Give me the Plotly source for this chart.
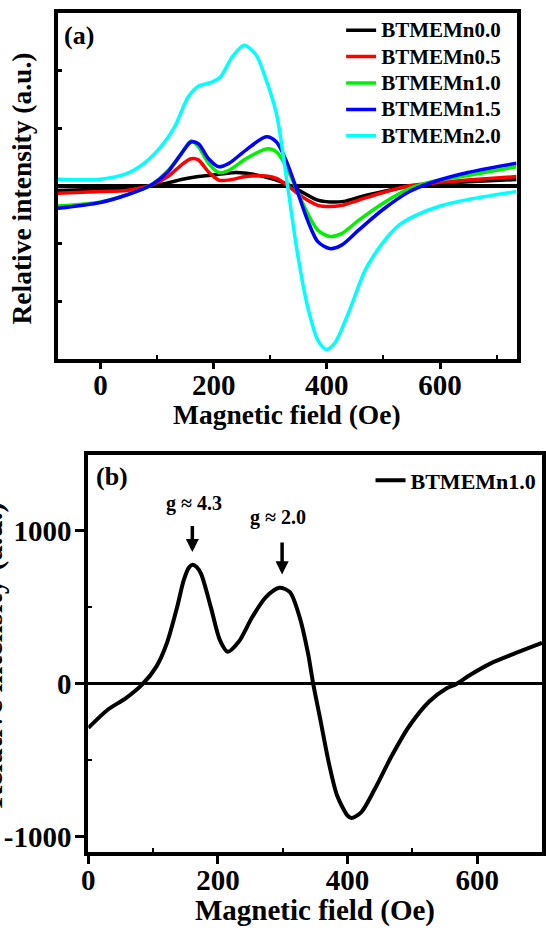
import plotly.graph_objects as go

# ---------------- data: panel (a) ----------------
names_a = ["BTMEMn0.0", "BTMEMn0.5", "BTMEMn1.0", "BTMEMn1.5", "BTMEMn2.0"]
colors_a = ["#000000", "#FF0000", "#00F000", "#0000FF", "#00FFFF"]

x_n00 = [-75, 0, 46, 89, 119, 143, 173, 209, 240, 270, 300, 330, 360, 384, 405, 430, 460, 500, 550, 600, 650, 735]
y_n00 = [-0.08, -0.06, -0.05, 0.0, 0.05, 0.11, 0.16, 0.20, 0.23, 0.20, 0.13, 0.03, -0.13, -0.25, -0.28, -0.27, -0.19, -0.10, 0.0, 0.04, 0.07, 0.11]

x_mid = [-75, 0, 46, 89, 119, 143, 160, 173, 191, 209, 227, 257, 293, 311, 330, 348, 366, 384, 405, 426, 456, 498, 546, 589, 649, 735]
y_n05 = [-0.13, -0.10, -0.08, 0.01, 0.16, 0.36, 0.47, 0.45, 0.24, 0.10, 0.10, 0.16, 0.17, 0.13, 0.01, -0.13, -0.25, -0.34, -0.36, -0.34, -0.25, -0.12, 0.0, 0.05, 0.10, 0.16]
y_n10 = [-0.35, -0.28, -0.16, 0.01, 0.26, 0.56, 0.78, 0.68, 0.39, 0.23, 0.27, 0.47, 0.64, 0.59, 0.30, -0.10, -0.48, -0.77, -0.88, -0.83, -0.60, -0.31, -0.05, 0.08, 0.18, 0.33]
y_n15 = [-0.39, -0.29, -0.16, 0.01, 0.24, 0.56, 0.76, 0.73, 0.47, 0.33, 0.39, 0.62, 0.85, 0.76, 0.39, -0.10, -0.60, -0.97, -1.09, -1.03, -0.77, -0.42, -0.10, 0.07, 0.23, 0.39]

x_n20 = [-75, 0, 46, 77, 107, 131, 155, 173, 197, 212, 233, 254, 275, 293, 311, 330, 348, 366, 384, 399, 414, 438, 468, 498, 528, 558, 600, 649, 735]
y_n20 = [0.115, 0.115, 0.21, 0.39, 0.68, 1.02, 1.54, 1.73, 1.80, 1.89, 2.24, 2.44, 2.27, 1.83, 1.25, 0.04, -1.17, -2.10, -2.68, -2.84, -2.73, -2.21, -1.46, -1.0, -0.68, -0.51, -0.35, -0.24, -0.10]

# ---------------- data: panel (b) ----------------
name_b = "BTMEMn1.0"
x_b = [0, 30, 58, 84, 105, 121, 137, 147, 155, 161, 167, 174, 189, 203, 215, 232, 253, 274, 295, 311, 326, 339, 347, 358, 371, 384, 400, 406, 421, 442, 468, 495, 526, 553, 568, 589, 621, 658, 700]
y_b = [-288, -169, -93, 0, 113, 264, 502, 675, 760, 779, 765, 719, 502, 286, 210, 275, 437, 567, 628, 600, 437, 199, 0, -234, -515, -732, -861, -877, -840, -688, -472, -277, -115, -28, 0, 58, 134, 199, 268]

# tick labels
xa_ticks = [0, 200, 400, 600]
xa_minor = [100, 300, 500, 700]
ya_ticks = [-2, -1, 0, 1, 2]
xb_ticks = [0, 200, 400, 600]
xb_minor = [100, 300, 500]
yb_ticks = [-1000, 0, 1000]
yb_ticktext = ["-1000", "0", "1000"]
yb_minor = [-500, 500]

# annotations (g-values)
g_labels = ["g \u2248 4.3", "g \u2248 2.0"]
g_label_x = [163, 292]
g_label_y = [1179, 1088]
arrow_x = [160.5, 299]
arrow_tail_y = [1042, 934]
arrow_tip_y = [862, 716]

W, H = 546, 930
FONT = "Liberation Serif"

fig = go.Figure()

def legend_name(n, size):
    return '<span style="font-size:%dpx">%s</span>' % (size, n)

series_a = [(x_n00, y_n00), (x_mid, y_n05), (x_mid, y_n10), (x_mid, y_n15), (x_n20, y_n20)]
for (xs, ys), nm, col in zip(series_a, names_a, colors_a):
    fig.add_trace(go.Scatter(x=xs, y=ys, name=legend_name(nm, 21), mode="lines",
                             line=dict(color=col, width=3.5, shape="spline", smoothing=0.8),
                             xaxis="x", yaxis="y", legend="legend"))

fig.add_trace(go.Scatter(x=x_b, y=y_b, name=name_b, mode="lines",
                         line=dict(color="black", width=4, shape="spline", smoothing=0.8),
                         xaxis="x2", yaxis="y2", legend="legend2"))

def px_x(p):
    return p / W

def px_y(p):
    return 1 - p / H

tickfont_a = dict(family=FONT, size=29, color="black", weight="bold")
tickfont_b = dict(family=FONT, size=29, color="black", weight="bold")

common_axis = dict(showline=True, linecolor="black", mirror=True, showgrid=False,
                   tickcolor="black", tickwidth=3)

fig.update_layout(
    width=W, height=H,
    margin=dict(l=0, r=0, t=0, b=0),
    paper_bgcolor="white", plot_bgcolor="white",
    showlegend=True,
    xaxis=dict(domain=[px_x(52), px_x(520)], range=[-75, 735], anchor="y",
               linewidth=3.5, ticks="outside", ticklen=7, tickvals=xa_ticks,
               tickfont=tickfont_a, zeroline=False, ticklabelstandoff=-9,
               minor=dict(tickvals=xa_minor, ticks="inside", ticklen=4, tickwidth=2, tickcolor="black"),
               **common_axis),
    yaxis=dict(domain=[px_y(359), px_y(13)], range=[-3, 3], anchor="x",
               linewidth=3.5, ticks="inside", ticklen=4, tickvals=ya_ticks,
               showticklabels=False,
               zeroline=True, zerolinecolor="black", zerolinewidth=3.5,
               **common_axis),
    xaxis2=dict(domain=[px_x(83), 1.0], range=[0, 700], anchor="y2",
                linewidth=4, ticks="outside", ticklen=8, tickvals=xb_ticks,
                tickfont=tickfont_b, zeroline=False, ticklabelstandoff=-9,
                minor=dict(tickvals=xb_minor, ticks="inside", ticklen=4, tickwidth=2, tickcolor="black"),
                **common_axis),
    yaxis2=dict(domain=[px_y(853), px_y(455)], range=[-1100, 1500], anchor="x2",
                linewidth=4, ticks="outside", ticklen=9, tickvals=yb_ticks, ticktext=yb_ticktext,
                tickfont=tickfont_b, ticklabelstandoff=-2,
                zeroline=True, zerolinecolor="black", zerolinewidth=3,
                minor=dict(tickvals=yb_minor, ticks="inside", ticklen=4, tickwidth=2, tickcolor="black"),
                **common_axis),
    legend=dict(x=px_x(341), y=px_y(12), xanchor="left", yanchor="top",
                bgcolor="rgba(0,0,0,0)", borderwidth=0,
                font=dict(family=FONT, size=18, color="black", weight="bold"),
                tracegroupgap=0),
    legend2=dict(x=px_x(371), y=px_y(460), xanchor="left", yanchor="top",
                 bgcolor="rgba(0,0,0,0)", borderwidth=0,
                 font=dict(family=FONT, size=22, color="black", weight="bold")),
)

ann = []
title_font_a = dict(family=FONT, size=27.5, color="black", weight="bold")
title_font_b = dict(family=FONT, size=29, color="black", weight="bold")
# axis titles
ann.append(dict(text="Magnetic field (Oe)", xref="paper", yref="paper",
                x=px_x(286), y=px_y(415), xanchor="center", yanchor="middle",
                showarrow=False, font=title_font_a))
ann.append(dict(text="Relative intensity (a.u.)", xref="paper", yref="paper",
                x=px_x(15), y=px_y(189), xanchor="center", yanchor="middle",
                textangle=-90, showarrow=False, font=title_font_a))
ann.append(dict(text="Magnetic field (Oe)", xref="paper", yref="paper",
                x=px_x(314), y=px_y(911), xanchor="center", yanchor="middle",
                showarrow=False, font=title_font_b))
ann.append(dict(text="Relative intensity (a.u.)", xref="paper", yref="paper",
                x=px_x(-16), y=px_y(656), xanchor="center", yanchor="middle",
                textangle=-90, showarrow=False, font=dict(family=FONT, size=31, color="black", weight="bold")))
# panel labels
ann.append(dict(text="(a)", xref="paper", yref="paper", x=px_x(73), y=px_y(36),
                xanchor="center", yanchor="middle", showarrow=False,
                font=dict(family=FONT, size=26, color="black", weight="bold")))
ann.append(dict(text="(b)", xref="paper", yref="paper", x=px_x(107), y=px_y(477),
                xanchor="center", yanchor="middle", showarrow=False,
                font=dict(family=FONT, size=26, color="black", weight="bold")))
# g labels and arrows
for t, gx, gy in zip(g_labels, g_label_x, g_label_y):
    ann.append(dict(text=t, xref="x2", yref="y2", x=gx, y=gy, showarrow=False,
                    xanchor="center", yanchor="middle",
                    font=dict(family=FONT, size=20, color="black", weight="bold")))
for axx, ty, hy in zip(arrow_x, arrow_tail_y, arrow_tip_y):
    ann.append(dict(text="", xref="x2", yref="y2", x=axx, y=hy,
                    axref="x2", ayref="y2", ax=axx, ay=ty,
                    showarrow=True, arrowhead=2, arrowsize=0.75, arrowwidth=3.5,
                    arrowcolor="black", standoff=0, startstandoff=0))
fig.update_layout(annotations=ann)

fig.write_html("out.html")
